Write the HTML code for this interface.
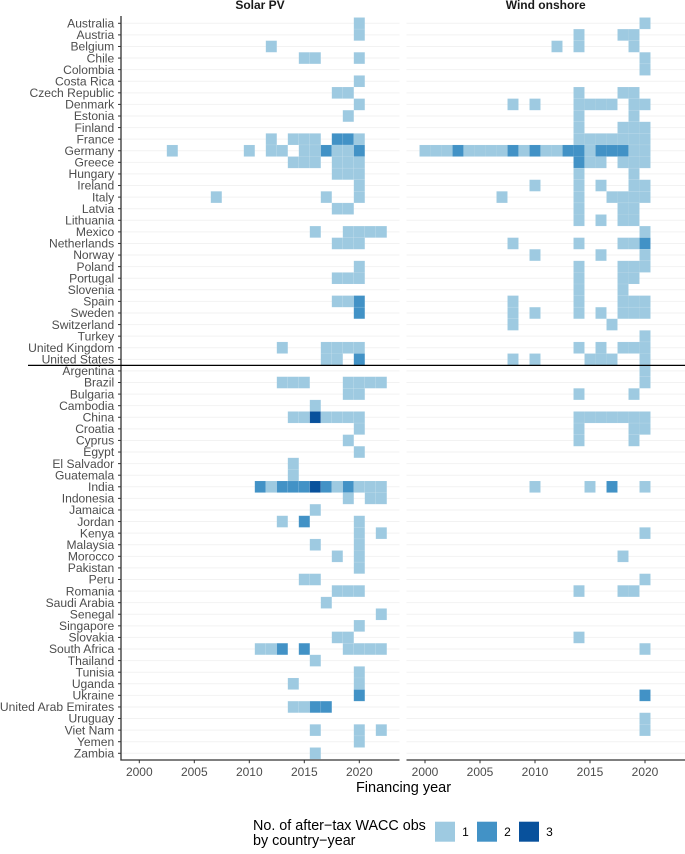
<!DOCTYPE html>
<html lang="en">
<head>
<meta charset="utf-8">
<title>After-tax WACC observations by country-year</title>
<style>
html,body{margin:0;padding:0;background:#fff;}
svg{display:block;font-family:"Liberation Sans",sans-serif;}
</style>
</head>
<body>
<svg id="chart" width="685" height="854" viewBox="0 0 685 854" xmlns="http://www.w3.org/2000/svg">
  <rect x="0" y="0" width="685" height="854" fill="#ffffff"/>
  <g id="grid"></g>
  <g id="tiles-solar"></g>
  <g id="tiles-wind"></g>
  <g id="yaxis"></g>
  <g id="xaxis"></g>
  <line x1="121" y1="16" x2="121" y2="760.5" stroke="#333" stroke-width="1.3"/>
  <line x1="120.4" y1="760" x2="399.5" y2="760" stroke="#333" stroke-width="1.3"/>
  <line x1="406.5" y1="760" x2="685" y2="760" stroke="#333" stroke-width="1.3"/>
  <line x1="28" y1="365.4" x2="685" y2="365.4" stroke="#000" stroke-width="1.3"/>
  <text x="260" y="9" text-anchor="middle" font-size="12" font-weight="700" fill="#1a1a1a">Solar PV</text>
  <text x="545.7" y="9" text-anchor="middle" font-size="12" font-weight="700" fill="#1a1a1a">Wind onshore</text>
  <text x="403.5" y="792" text-anchor="middle" font-size="14.5" fill="#000">Financing year</text>
  <g>
    <text x="253" y="830" font-size="14.35" fill="#000">No. of after−tax WACC obs</text>
    <text x="253" y="845" font-size="14.35" fill="#000">by country−year</text>
    <rect x="435" y="821.7" width="20" height="20" fill="#9ecae1"/>
    <text x="465.5" y="836" text-anchor="middle" font-size="12" fill="#000">1</text>
    <rect x="477" y="821.7" width="20" height="20" fill="#4292c6"/>
    <text x="507.5" y="836" text-anchor="middle" font-size="12" fill="#000">2</text>
    <rect x="519" y="821.7" width="20" height="20" fill="#08519c"/>
    <text x="549.5" y="836" text-anchor="middle" font-size="12" fill="#000">3</text>
  </g>
</svg>
<script>
const countries = ["Australia","Austria","Belgium","Chile","Colombia","Costa Rica","Czech Republic","Denmark","Estonia","Finland","France","Germany","Greece","Hungary","Ireland","Italy","Latvia","Lithuania","Mexico","Netherlands","Norway","Poland","Portugal","Slovenia","Spain","Sweden","Switzerland","Turkey","United Kingdom","United States","Argentina","Brazil","Bulgaria","Cambodia","China","Croatia","Cyprus","Egypt","El Salvador","Guatemala","India","Indonesia","Jamaica","Jordan","Kenya","Malaysia","Morocco","Pakistan","Peru","Romania","Saudi Arabia","Senegal","Singapore","Slovakia","South Africa","Thailand","Tunisia","Uganda","Ukraine","United Arab Emirates","Uruguay","Viet Nam","Yemen","Zambia"];
const yearTicks = [2000,2005,2010,2015,2020];

// each country: list of [financing year, number of observations]
const solarObs = {
  "Australia":[[2020,1]],
  "Austria":[[2020,1]],
  "Belgium":[[2012,1]],
  "Chile":[[2015,1],[2016,1],[2020,1]],
  "Costa Rica":[[2020,1]],
  "Czech Republic":[[2018,1],[2019,1]],
  "Denmark":[[2020,1]],
  "Estonia":[[2019,1]],
  "France":[[2012,1],[2014,1],[2015,1],[2016,1],[2018,2],[2019,2],[2020,1]],
  "Germany":[[2003,1],[2010,1],[2012,1],[2013,1],[2015,1],[2016,1],[2017,2],[2018,1],[2019,1],[2020,2]],
  "Greece":[[2014,1],[2015,1],[2016,1],[2018,1],[2019,1],[2020,1]],
  "Hungary":[[2018,1],[2019,1],[2020,1]],
  "Ireland":[[2020,1]],
  "Italy":[[2007,1],[2017,1],[2020,1]],
  "Latvia":[[2018,1],[2019,1]],
  "Mexico":[[2016,1],[2019,1],[2020,1],[2021,1],[2022,1]],
  "Netherlands":[[2018,1],[2019,1],[2020,1]],
  "Poland":[[2020,1]],
  "Portugal":[[2018,1],[2019,1],[2020,1]],
  "Spain":[[2018,1],[2019,1],[2020,2]],
  "Sweden":[[2020,2]],
  "United Kingdom":[[2013,1],[2017,1],[2018,1],[2019,1],[2020,1]],
  "United States":[[2017,1],[2018,1],[2020,2]],
  "Brazil":[[2013,1],[2014,1],[2015,1],[2019,1],[2020,1],[2021,1],[2022,1]],
  "Bulgaria":[[2019,1],[2020,1]],
  "Cambodia":[[2016,1]],
  "China":[[2014,1],[2015,1],[2016,3],[2017,1],[2018,1],[2019,1],[2020,1]],
  "Croatia":[[2020,1]],
  "Cyprus":[[2019,1]],
  "Egypt":[[2020,1]],
  "El Salvador":[[2014,1]],
  "Guatemala":[[2014,1]],
  "India":[[2011,2],[2012,1],[2013,2],[2014,2],[2015,2],[2016,3],[2017,2],[2018,1],[2019,2],[2020,1],[2021,1],[2022,1]],
  "Indonesia":[[2019,1],[2021,1],[2022,1]],
  "Jamaica":[[2016,1]],
  "Jordan":[[2013,1],[2015,2],[2020,1]],
  "Kenya":[[2020,1],[2022,1]],
  "Malaysia":[[2016,1],[2020,1]],
  "Morocco":[[2018,1],[2020,1]],
  "Pakistan":[[2020,1]],
  "Peru":[[2015,1],[2016,1]],
  "Romania":[[2018,1],[2019,1],[2020,1]],
  "Saudi Arabia":[[2017,1]],
  "Senegal":[[2022,1]],
  "Singapore":[[2020,1]],
  "Slovakia":[[2018,1],[2019,1]],
  "South Africa":[[2011,1],[2012,1],[2013,2],[2015,2],[2019,1],[2020,1],[2021,1],[2022,1]],
  "Thailand":[[2016,1]],
  "Tunisia":[[2020,1]],
  "Uganda":[[2014,1],[2020,1]],
  "Ukraine":[[2020,2]],
  "United Arab Emirates":[[2014,1],[2015,1],[2016,2],[2017,2]],
  "Viet Nam":[[2016,1],[2020,1],[2022,1]],
  "Yemen":[[2020,1]],
  "Zambia":[[2016,1]]
};

const windObs = {
  "Australia":[[2020,1]],
  "Austria":[[2014,1],[2018,1],[2019,1]],
  "Belgium":[[2012,1],[2014,1],[2019,1]],
  "Chile":[[2020,1]],
  "Colombia":[[2020,1]],
  "Czech Republic":[[2014,1],[2018,1],[2019,1]],
  "Denmark":[[2008,1],[2010,1],[2014,1],[2015,1],[2016,1],[2017,1],[2019,1],[2020,1]],
  "Estonia":[[2014,1],[2019,1]],
  "Finland":[[2014,1],[2018,1],[2019,1],[2020,1]],
  "France":[[2014,1],[2015,1],[2016,1],[2017,1],[2018,1],[2019,1],[2020,1]],
  "Germany":[[2000,1],[2001,1],[2002,1],[2003,2],[2004,1],[2005,1],[2006,1],[2007,1],[2008,2],[2009,1],[2010,2],[2011,1],[2012,1],[2013,2],[2014,2],[2015,1],[2016,2],[2017,2],[2018,2],[2019,1],[2020,1]],
  "Greece":[[2014,2],[2015,1],[2016,1],[2018,1],[2019,1],[2020,1]],
  "Hungary":[[2014,1],[2019,1]],
  "Ireland":[[2010,1],[2014,1],[2016,1],[2019,1],[2020,1]],
  "Italy":[[2007,1],[2014,1],[2017,1],[2018,1],[2019,1],[2020,1]],
  "Latvia":[[2014,1],[2018,1],[2019,1]],
  "Lithuania":[[2014,1],[2016,1],[2018,1],[2019,1]],
  "Mexico":[[2020,1]],
  "Netherlands":[[2008,1],[2014,1],[2018,1],[2019,1],[2020,2]],
  "Norway":[[2010,1],[2016,1],[2020,1]],
  "Poland":[[2014,1],[2018,1],[2019,1],[2020,1]],
  "Portugal":[[2014,1],[2018,1],[2019,1]],
  "Slovenia":[[2014,1],[2018,1]],
  "Spain":[[2008,1],[2014,1],[2018,1],[2019,1],[2020,1]],
  "Sweden":[[2008,1],[2010,1],[2014,1],[2016,1],[2018,1],[2019,1],[2020,1]],
  "Switzerland":[[2008,1],[2017,1]],
  "Turkey":[[2020,1]],
  "United Kingdom":[[2014,1],[2016,1],[2018,1],[2019,1],[2020,1]],
  "United States":[[2008,1],[2010,1],[2015,1],[2016,1],[2017,1],[2020,1]],
  "Argentina":[[2020,1]],
  "Brazil":[[2020,1]],
  "Bulgaria":[[2014,1],[2019,1]],
  "China":[[2014,1],[2015,1],[2016,1],[2017,1],[2018,1],[2019,1],[2020,1]],
  "Croatia":[[2014,1],[2019,1],[2020,1]],
  "Cyprus":[[2014,1],[2019,1]],
  "India":[[2010,1],[2015,1],[2017,2],[2020,1]],
  "Kenya":[[2020,1]],
  "Morocco":[[2018,1]],
  "Peru":[[2020,1]],
  "Romania":[[2014,1],[2018,1],[2019,1]],
  "Slovakia":[[2014,1]],
  "South Africa":[[2020,1]],
  "Ukraine":[[2020,2]],
  "Uruguay":[[2020,1]],
  "Viet Nam":[[2020,1]]
};

const NS = "http://www.w3.org/2000/svg";
const ROW_STEP = (753.3 - 23.3) / (countries.length - 1);
const YEAR_STEP = 11;
const countFill = {1:"#9ecae1",2:"#4292c6",3:"#08519c"};
function yScale(country){ return 23.3 + countries.indexOf(country) * ROW_STEP; }
function xSolar(year){ return 139.3 + (year - 2000) * YEAR_STEP; }
function xWind(year){ return 425 + (year - 2000) * YEAR_STEP; }
function slug(s){ return s.toLowerCase().replace(/[^a-z0-9]+/g,"-"); }
function make(tag, attrs, parent, text){
  const el = document.createElementNS(NS, tag);
  for (const k in attrs) el.setAttribute(k, attrs[k]);
  if (text !== undefined) el.textContent = text;
  parent.appendChild(el);
  return el;
}

const grid = document.getElementById("grid");
const yaxis = document.getElementById("yaxis");
countries.forEach(function(c){
  const y = yScale(c);
  const g1 = make("line",{x1:122,y1:y,x2:399.5,y2:y,stroke:"#f2f2f2","stroke-width":1},grid);
  
  
  const g2 = make("line",{x1:406.5,y1:y,x2:685,y2:y,stroke:"#f2f2f2","stroke-width":1},grid);
  
  
  const t = make("line",{x1:118,y1:y,x2:121,y2:y,stroke:"#333","stroke-width":1},yaxis);
  
  
  const lab = make("text",{x:114.2,y:y+4.2,"text-anchor":"end","font-size":12.1,fill:"#4d4d4d"},yaxis,c);
  
  
});

const xaxis = document.getElementById("xaxis");
[xSolar,xWind].forEach(function(sc){
  yearTicks.forEach(function(yr){
    const x = sc(yr);
    const t = make("line",{x1:x,y1:760,x2:x,y2:763.2,stroke:"#333","stroke-width":1},xaxis);
    
    
    const lab = make("text",{x:x,y:776,"text-anchor":"middle","font-size":12,fill:"#4d4d4d"},xaxis,String(yr));
    
    
  });
});

function drawTiles(obs, xScale, parent, prefix){
  Object.keys(obs).forEach(function(country){
    obs[country].forEach(function(cell){
      const year = cell[0], n = cell[1];
      const r = make("rect",{
        x:xScale(year)-YEAR_STEP/2, y:yScale(country)-ROW_STEP/2,
        width:YEAR_STEP, height:ROW_STEP, fill:countFill[n],
        stroke:"#ffffff","stroke-opacity":0.1,"stroke-width":0.6
      },parent);
      
      
    });
  });
}
drawTiles(solarObs, xSolar, document.getElementById("tiles-solar"), "solar");
drawTiles(windObs, xWind, document.getElementById("tiles-wind"), "wind");
</script>
</body>
</html>
